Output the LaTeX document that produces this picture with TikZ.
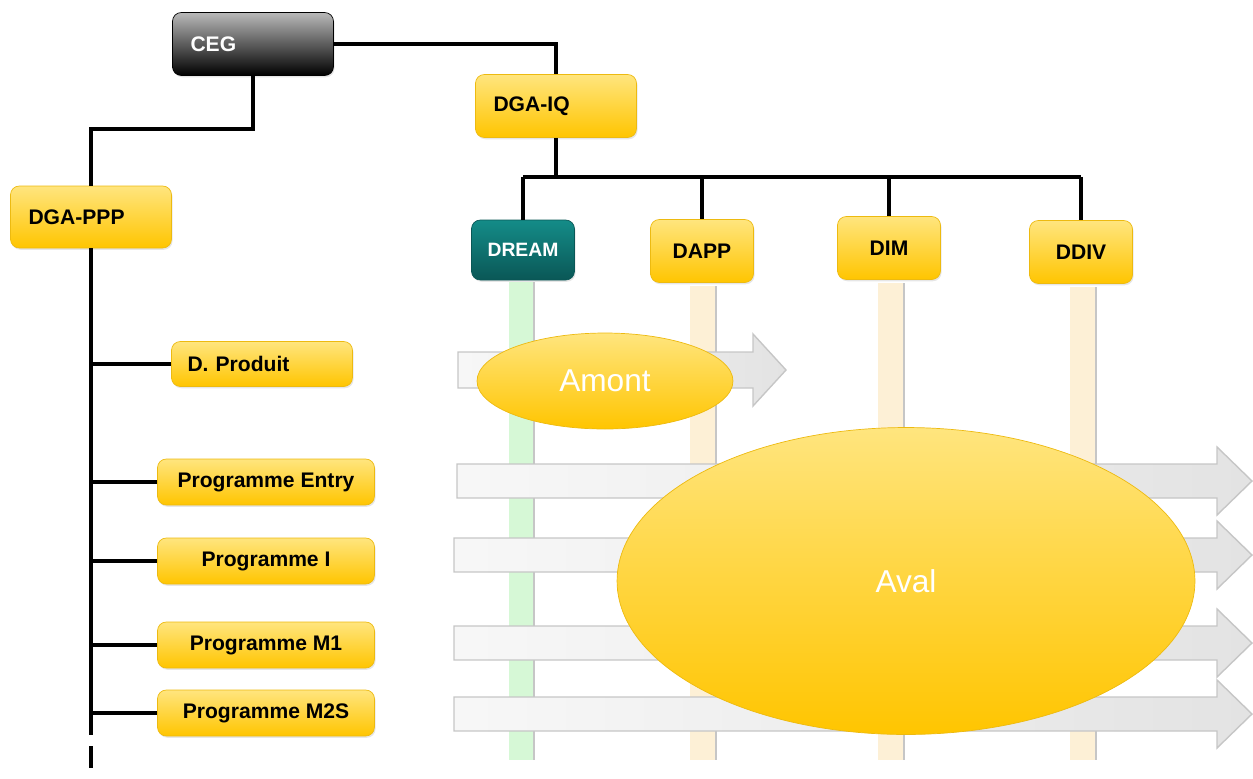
\documentclass[tikz,border=0pt]{standalone}
\usepackage{fontspec}
\setmainfont{Liberation Sans}
\usetikzlibrary{shapes.geometric,shadows}
\definecolor{boxtop}{HTML}{FFE57E}
\definecolor{boxbot}{HTML}{FFC500}
\definecolor{boxline}{HTML}{EDBA10}
\definecolor{tealtop}{HTML}{148C88}
\definecolor{tealbot}{HTML}{0A5756}
\definecolor{greenbar}{HTML}{D6F8D6}
\definecolor{sandbar}{HTML}{FDF0D6}

% flat block arrow: left end, head base, tip, middle, half shaft
\newcommand\flowarrow[5]{%
  \draw[flow] (#1,#4-#5) -- (#2,#4-#5) -- (#2,#4-2*#5) -- (#3,#4)
    -- (#2,#4+2*#5) -- (#2,#4+#5) -- (#1,#4+#5) -- cycle;}

\begin{document}
\begin{tikzpicture}[x=0.02cm,y=-0.02cm,
    box/.style={rectangle, rounded corners=5pt, draw=boxline, top color=boxtop,
      bottom color=boxbot, inner sep=2pt,
      font=\bfseries\fontsize{12}{14}\selectfont,
      drop shadow={opacity=0.2, shadow xshift=0.6pt, shadow yshift=-1pt}},
    head/.style={box, minimum width=3.22cm, minimum height=1.26cm,
      text width=2.5cm, align=left},
    dept/.style={box, minimum width=2.06cm, minimum height=1.26cm},
    prog/.style={box, minimum width=4.34cm, minimum height=0.92cm},
    blob/.style={ellipse, draw=boxline, top color=boxtop, bottom color=boxbot,
      text=white, font=\fontsize{18}{20}\selectfont},
    flow/.style={draw=gray!45, line width=0.8pt, left color=gray!6, right color=gray!22},
    link/.style={line width=2pt, black}]
  \useasboundingbox (0,0) rectangle (1253,778);

  % Define nodes
  \node[head, top color=gray!55, bottom color=black, draw=black, text=white] (ceg) at (253,44) {CEG};
  \node[head] (dgaiq) at (556,106) {DGA-IQ};
  \node[head, minimum height=1.24cm] (dgappp) at (91,217) {DGA-PPP};

  \node[dept, minimum height=1.2cm, top color=tealtop, bottom color=tealbot, draw=tealbot,
        text=white, font=\bfseries\fontsize{11}{13}\selectfont] (dream) at (523,250) {DREAM};
  \node[dept] (dapp) at (702,251) {DAPP};
  \node[dept] (dim) at (889,248) {DIM};
  \node[dept] (ddiv) at (1081,252) {DDIV};

  \node[box, minimum width=3.62cm, minimum height=0.9cm, text width=2.98cm, align=left] (produit) at (262,364) {D. Produit};
  \node[prog] (pentry) at (266,482) {Programme Entry};
  \node[prog] (pi) at (266,561) {Programme I};
  \node[prog] (pmone) at (266,645) {Programme M1};
  \node[prog] (pmtwos) at (266,713) {Programme M2S};

  % Connect nodes
  \draw[link] (ceg.east) -| (dgaiq.north);
  \draw[link] (ceg.south) -- ++(0,53) -| (dgappp.north);
  \draw[link] (dgaiq.south) -- ++(0,39) coordinate (hub);
  \draw[link] (dream.north |- hub) -- (ddiv.north |- hub);
  \foreach \d in {dream,dapp,dim,ddiv}
    \draw[link] (\d.north |- hub) -- (\d.north);
  \coordinate (spineend) at (dgappp.south |- 0,778);
  \draw[link] (dgappp.south) -- (dgappp.south |- pmtwos.west) coordinate (spinelow);
  \draw[link, dash pattern=on 0.44cm off 0.22cm] (spinelow) -- (spineend);
  \foreach \p in {produit,pentry,pi,pmone,pmtwos}
    \draw[link] (dgappp.south |- \p.west) -- (\p.west);

  % columns under the departments
  \fill[greenbar] (509,282) rectangle (533,760);
  \fill[sandbar] (690,286) rectangle (715,760);
  \fill[sandbar] (878,283) rectangle (903,760);
  \fill[sandbar] (1070,287) rectangle (1095,760);
  \foreach \xb/\yb in {534/282,716/286,904/283,1096/287}
    \draw[gray!45, line width=1pt] (\xb,\yb) -- (\xb,760);

  % flows
  \flowarrow{458}{753}{786}{370}{18}
  \flowarrow{457}{1217}{1252}{481}{17}
  \flowarrow{454}{1217}{1252}{555}{17}
  \flowarrow{454}{1217}{1252}{643}{17}
  \flowarrow{454}{1217}{1252}{714}{17}

  \node[blob, minimum width=5.12cm, minimum height=1.92cm] (amont) at (605,381) {Amont};
  \node[blob, minimum width=11.56cm, minimum height=6.14cm] (aval) at (906,581) {Aval};
\end{tikzpicture}
\end{document}
